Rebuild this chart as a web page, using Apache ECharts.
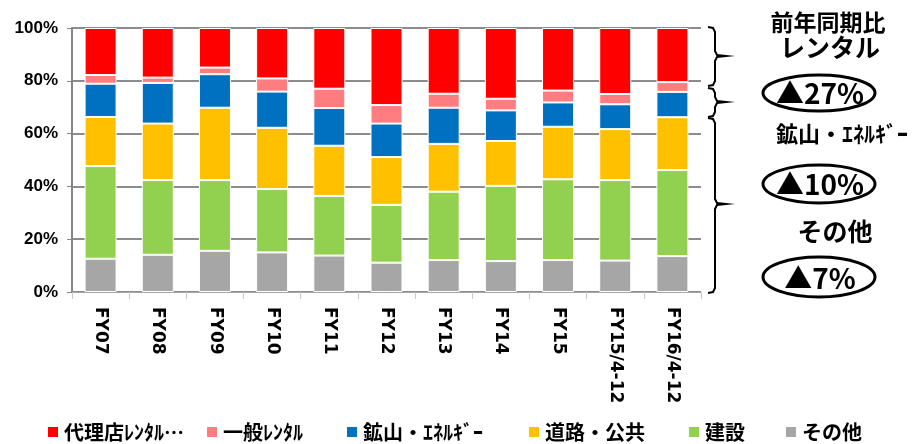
<!DOCTYPE html>
<html>
<head>
<meta charset="utf-8">
<script src="https://cdn.jsdelivr.net/npm/echarts@6/dist/echarts.min.js"></script>
<style>
  html, body { margin: 0; padding: 0; background: #fff; }
  #chart { width: 917px; height: 444px; }
</style>
</head>
<body>
<div id="chart"></div>
<script>
// 期間
const categories = ['FY07', 'FY08', 'FY09', 'FY10', 'FY11', 'FY12', 'FY13', 'FY14', 'FY15', 'FY15/4-12', 'FY16/4-12'];

// 構成比 (%) 下から順に
const sonota = [12.6, 14.1, 15.6, 15.0, 13.8, 11.1, 12.1, 11.7, 12.1, 11.9, 13.6];
const kensetsu = [35.1, 28.3, 26.8, 24.0, 22.6, 21.9, 25.9, 28.5, 30.6, 30.5, 32.6];
const doro = [18.6, 21.4, 27.4, 23.2, 19.0, 18.1, 18.1, 17.0, 19.9, 19.3, 20.0];
const kozan = [12.6, 15.4, 12.7, 13.7, 14.3, 12.7, 13.7, 11.6, 9.2, 9.4, 9.6];
const ippan = [3.3, 2.0, 2.5, 5.0, 7.3, 7.0, 5.3, 4.4, 4.5, 3.9, 3.7];
const dairiten = [17.8, 18.8, 15.0, 19.1, 23.0, 29.2, 24.9, 26.8, 23.7, 25.0, 20.5];

// 前年同期比
const yoyLabels = ['▲27%', '▲10%', '▲7%'];

const seriesDefs = [
  { name: 'その他', data: sonota, color: '#A6A6A6' },
  { name: '建設', data: kensetsu, color: '#92D050' },
  { name: '道路・公共', data: doro, color: '#FFC000' },
  { name: '鉱山・ｴﾈﾙｷﾞｰ', data: kozan, color: '#0070C0' },
  { name: '一般ﾚﾝﾀﾙ', data: ippan, color: '#FF7C80' },
  { name: '代理店ﾚﾝﾀﾙ…', data: dairiten, color: '#FF0000' }
];

const jp = '"Noto Sans CJK JP", sans-serif';
const latin = '"DejaVu Sans", Verdana, sans-serif';
const chart = echarts.init(document.getElementById('chart'));

// 凡例の位置
const legendPos = [
  ['代理店ﾚﾝﾀﾙ…', 46],
  ['一般ﾚﾝﾀﾙ', 205],
  ['鉱山・ｴﾈﾙｷﾞｰ', 345],
  ['道路・公共', 527],
  ['建設', 687],
  ['その他', 784]
];

// 中括弧
function brace(x, y1, ym, y2) {
  return {
    type: 'polyline',
    shape: {
      points: [
        [x - 7, y1], [x - 2, y1 + 1], [x, y1 + 5],
        [x, ym - 5], [x + 2, ym - 1], [x + 11, ym], [x + 2, ym + 1], [x, ym + 5],
        [x, y2 - 5], [x - 2, y2 - 1], [x - 7, y2]
      ]
    },
    style: { fill: 'none', stroke: '#000', lineWidth: 2 }
  };
}

function textEl(txt, x, y, size) {
  return {
    type: 'text', x: x, y: y,
    style: { text: txt, font: 'bold ' + size + 'px ' + jp, fill: '#000', align: 'center', verticalAlign: 'middle' }
  };
}

function ellipseEl(cx, cy, rx, ry) {
  return {
    type: 'ellipse',
    shape: { cx: cx, cy: cy, rx: rx, ry: ry },
    style: { fill: 'none', stroke: '#000', lineWidth: 3 }
  };
}

const option = {
  animation: false,
  textStyle: { fontFamily: jp },
  grid: { left: 72, right: 216, top: 28, bottom: 152 },
  legend: legendPos.map(([name, x]) => ({
    data: [name],
    left: x,
    top: 422,
    padding: 0,
    icon: 'rect',
    itemWidth: 12,
    itemHeight: 12,
    textStyle: { fontSize: 20, fontWeight: 'bold', color: '#000', fontFamily: jp }
  })),
  xAxis: {
    type: 'category',
    data: categories,
    axisLine: { lineStyle: { color: '#a6a6a6', width: 1 } },
    axisTick: { show: true, length: 7, lineStyle: { color: '#c8c8c8' } },
    axisLabel: {
      rotate: -90,
      margin: 15,
      color: '#000',
      fontSize: 17,
      fontWeight: 'bold',
      fontFamily: latin,
      interval: 0
    }
  },
  yAxis: {
    type: 'value',
    min: 0,
    max: 100,
    interval: 20,
    axisLine: { show: true, lineStyle: { color: '#868686', width: 2 } },
    axisTick: { show: true, length: 5, lineStyle: { color: '#868686' } },
    splitLine: { lineStyle: { color: '#8c8c8c', width: 2 } },
    axisLabel: {
      formatter: '{value}%',
      color: '#000',
      fontSize: 17,
      fontWeight: 'bold',
      fontFamily: '"Liberation Sans", Arial, sans-serif',
      margin: 14
    }
  },
  series: seriesDefs.map(s => ({
    name: s.name,
    type: 'bar',
    stack: 'total',
    barWidth: 32,
    data: s.data,
    itemStyle: { color: s.color, borderColor: '#fff', borderWidth: 1 }
  })),
  graphic: [
    brace(715, 27, 56, 86),
    brace(715, 88, 102, 117),
    brace(715, 118, 204, 293),
    textEl('前年同期比', 828, 22, 23),
    textEl('レンタル', 830, 47, 25),
    ellipseEl(819, 93, 56, 18),
    textEl(yoyLabels[0], 820, 93, 28),
    textEl('鉱山・ｴﾈﾙｷﾞｰ', 842, 134, 22),
    ellipseEl(819, 184, 56, 19),
    textEl(yoyLabels[1], 820, 184, 28),
    textEl('その他', 835, 231, 25),
    ellipseEl(819, 277, 56, 20),
    textEl(yoyLabels[2], 820, 278, 28)
  ]
};

chart.setOption(option);
</script>
</body>
</html>
